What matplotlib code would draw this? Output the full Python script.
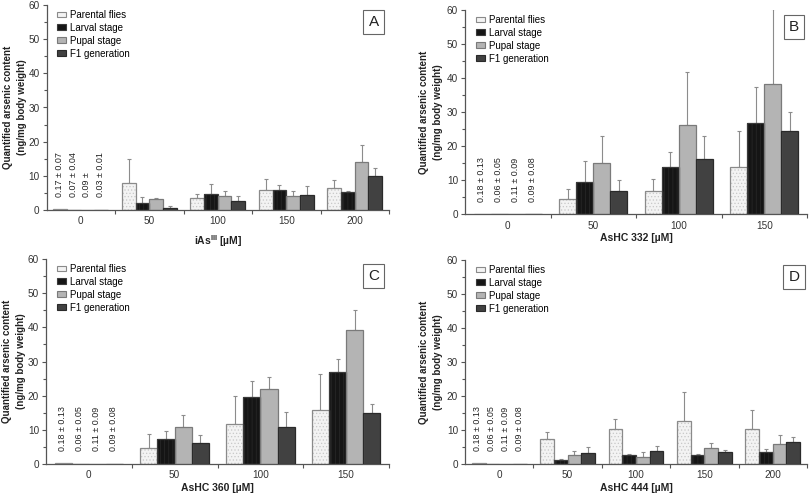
import matplotlib
matplotlib.use('Agg')
import matplotlib.pyplot as plt
import numpy as np
from matplotlib.patches import Patch
from matplotlib.ticker import MultipleLocator, FixedLocator

plt.rcParams['font.family'] = ['Liberation Sans', 'DejaVu Sans']
plt.rcParams['hatch.linewidth'] = 0.5
plt.rcParams['mathtext.fontset'] = 'custom'
plt.rcParams['mathtext.bf'] = 'Liberation Sans:bold'
plt.rcParams['mathtext.rm'] = 'Liberation Sans'

series = ['Parental flies', 'Larval stage', 'Pupal stage', 'F1 generation']
y_title = 'Quantified arsenic content\n(ng/mg body weight)'

# Panel A (iAs III)
a_doses = ['0', '50', '100', '150', '200']
a_parental = [0.17, 7.8, 3.4, 5.8, 6.5]
a_parental_sd = [0.07, 7.0, 1.2, 3.2, 2.3]
a_larval = [0.07, 2.1, 4.8, 6.0, 5.4]
a_larval_sd = [0.04, 1.6, 2.9, 1.2, 0.1]
a_pupal = [0.09, 3.1, 4.0, 4.1, 14.0]
a_pupal_sd = [0.0, 0.5, 1.5, 1.4, 5.0]
a_f1 = [0.03, 0.7, 2.5, 4.3, 9.9]
a_f1_sd = [0.01, 0.4, 1.5, 2.6, 2.3]
a_zero_labels = ['0.17 ± 0.07', '0.07 ± 0.04', '0.09 ±', '0.03 ± 0.01']

# Panel B (AsHC 332)
b_doses = ['0', '50', '100', '150']
b_parental = [0.18, 4.6, 7.0, 14.0]
b_parental_sd = [0.13, 3.0, 3.4, 10.4]
b_larval = [0.06, 9.6, 14.0, 26.9]
b_larval_sd = [0.05, 6.1, 4.2, 10.4]
b_pupal = [0.11, 15.1, 26.4, 38.2]
b_pupal_sd = [0.09, 7.8, 15.3, 22.0]
b_f1 = [0.09, 6.8, 16.2, 24.4]
b_f1_sd = [0.08, 3.2, 6.7, 5.8]
b_zero_labels = ['0.18 ± 0.13', '0.06 ± 0.05', '0.11 ± 0.09', '0.09 ± 0.08']

# Panel C (AsHC 360)
c_doses = ['0', '50', '100', '150']
c_parental = [0.18, 4.7, 11.6, 15.7]
c_parental_sd = [0.13, 4.2, 8.3, 10.6]
c_larval = [0.06, 7.4, 19.6, 26.9]
c_larval_sd = [0.05, 2.2, 4.8, 3.7]
c_pupal = [0.11, 10.7, 22.0, 39.2]
c_pupal_sd = [0.09, 3.7, 3.6, 5.9]
c_f1 = [0.09, 6.1, 10.7, 14.9]
c_f1_sd = [0.08, 2.4, 4.6, 2.8]
c_zero_labels = ['0.18 ± 0.13', '0.06 ± 0.05', '0.11 ± 0.09', '0.09 ± 0.08']

# Panel D (AsHC 444)
d_doses = ['0', '50', '100', '150', '200']
d_parental = [0.18, 7.3, 10.2, 12.7, 10.2]
d_parental_sd = [0.13, 2.0, 3.1, 8.6, 5.7]
d_larval = [0.06, 1.2, 2.6, 2.6, 3.4]
d_larval_sd = [0.05, 0.3, 0.4, 0.3, 1.0]
d_pupal = [0.11, 2.6, 2.0, 4.7, 6.0]
d_pupal_sd = [0.09, 1.3, 1.5, 1.5, 2.4]
d_f1 = [0.09, 3.3, 3.8, 3.5, 6.5]
d_f1_sd = [0.08, 1.8, 1.5, 0.5, 1.4]
d_zero_labels = ['0.18 ± 0.13', '0.06 ± 0.05', '0.11 ± 0.09', '0.09 ± 0.08']

styles = [
    dict(fc='#f3f3f3', hatch_c='#c8c8c8', hatch='.....', ec='#8a8a8a'),
    dict(fc='#151515', hatch_c='#2a2a2a', hatch='||||', ec='#3a3a3a'),
    dict(fc='#b4b4b4', hatch_c='#b4b4b4', hatch=None, ec='#7a7a7a'),
    dict(fc='#414141', hatch_c='#414141', hatch=None, ec='#2a2a2a'),
]

fig = plt.figure(figsize=(8.1, 4.96), dpi=100)

def panel(rect, doses, vals, sds, zero_labels, xlabel, letter, letter_x,
          xlab_y, ylab_x):
    ax = fig.add_axes(rect)
    n = len(doses)
    x = np.arange(n)
    w = 0.2
    offsets = [-0.3, -0.1, 0.1, 0.3]
    for k in range(4):
        st = styles[k]
        v = np.array(vals[k])
        ax.bar(x + offsets[k], v, w, color=st['fc'], hatch=st['hatch'],
               edgecolor=st['hatch_c'], linewidth=0, zorder=2)
        ax.bar(x + offsets[k], v, w, fill=False, edgecolor=st['ec'],
               linewidth=0.9, zorder=3)
        sd = np.array(sds[k])
        ax.errorbar(x[1:] + offsets[k], v[1:], yerr=[np.zeros(n - 1), sd[1:]],
                    fmt='none', ecolor='#8c8c8c', elinewidth=0.8,
                    capsize=1.3, capthick=0.8, zorder=1)
    for k in range(4):
        ax.text(offsets[k] - 0.01, 3.8, zero_labels[k], rotation=90,
                ha='center', va='bottom', fontsize=6.4, color='#222222')
    ax.set_xlim(-0.5, n - 0.5)
    ax.set_ylim(0, 60)
    ax.set_xticks(x)
    ax.set_xticklabels(doses)
    ax.xaxis.set_minor_locator(FixedLocator(np.arange(0.5, n, 1.0)))
    ax.tick_params(axis='x', which='major', length=0, labelsize=7.2,
                   labelcolor='#333333', pad=4.5)
    ax.tick_params(axis='x', which='minor', length=3, width=0.8,
                   color='#555555', direction='out')
    ax.yaxis.set_major_locator(MultipleLocator(10))
    ax.yaxis.set_minor_locator(MultipleLocator(5))
    ax.tick_params(axis='y', which='major', length=3, width=0.8,
                   color='#555555', labelsize=7.2, labelcolor='#333333', pad=2)
    ax.tick_params(axis='y', which='minor', length=2, width=0.8, color='#555555')
    for s in ['top', 'right']:
        ax.spines[s].set_visible(False)
    for s in ['left', 'bottom']:
        ax.spines[s].set_color('#555555')
        ax.spines[s].set_linewidth(0.9)
    ax.set_xlabel(xlabel, fontsize=7.5, fontweight='bold', color='#222222')
    ax.xaxis.set_label_coords(0.5, xlab_y)
    ax.text(ylab_x, 0.5, y_title, transform=ax.transAxes, rotation=90,
            ha='right', va='center', multialignment='center',
            fontsize=7, fontweight='bold', color='#222222', linespacing=1.5)
    handles = [Patch(facecolor=st['fc'], edgecolor=st['ec'], linewidth=0.8)
               for st in styles]
    ax.legend(handles, series, loc='upper left', bbox_to_anchor=(0.02, 0.995),
              frameon=False, fontsize=7, handlelength=0.95, handleheight=0.55,
              handletextpad=0.4, labelspacing=0.3, borderaxespad=0.0)
    ax.text(letter_x, 0.915, letter, transform=ax.transAxes, fontsize=11,
            ha='center', va='center', color='#222222',
            bbox=dict(boxstyle='square,pad=0.33', fc='white', ec='#666666',
                      lw=0.8))
    return ax

panel([46.5/810, 1 - 210/496, 342.5/810, 205/496], a_doses,
      [a_parental, a_larval, a_pupal, a_f1],
      [a_parental_sd, a_larval_sd, a_pupal_sd, a_f1_sd],
      a_zero_labels, r'iAs$^{\mathbf{III}}$ [µM]', 'A', 0.955, -0.115, -0.057)
panel([465/810, 1 - 214.5/496, 342/810, 204.5/496], b_doses,
      [b_parental, b_larval, b_pupal, b_f1],
      [b_parental_sd, b_larval_sd, b_pupal_sd, b_f1_sd],
      b_zero_labels, 'AsHC 332 [µM]', 'B', 0.962, -0.09, -0.064)
panel([46/810, 1 - 464/496, 343/810, 205/496], c_doses,
      [c_parental, c_larval, c_pupal, c_f1],
      [c_parental_sd, c_larval_sd, c_pupal_sd, c_f1_sd],
      c_zero_labels, 'AsHC 360 [µM]', 'C', 0.955, -0.095, -0.057)
panel([465/810, 1 - 464/496, 342/810, 204/496], d_doses,
      [d_parental, d_larval, d_pupal, d_f1],
      [d_parental_sd, d_larval_sd, d_pupal_sd, d_f1_sd],
      d_zero_labels, 'AsHC 444 [µM]', 'D', 0.962, -0.095, -0.064)

fig.savefig('out.png', dpi=100, facecolor='white')
